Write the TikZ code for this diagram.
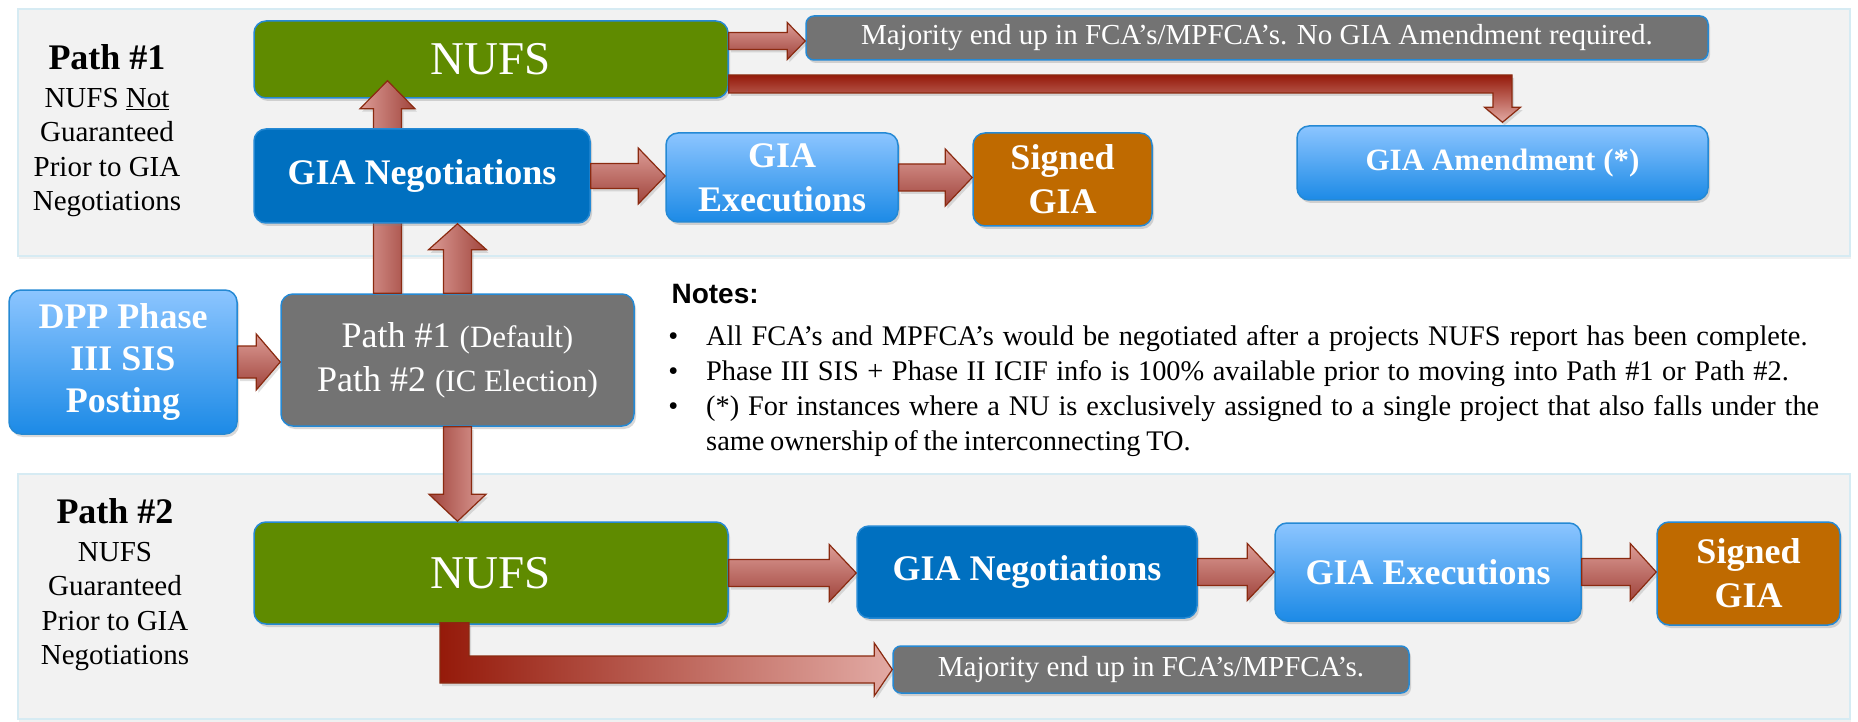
\documentclass[tikz,border=0pt]{standalone}
\usepackage{fontspec}
\setmainfont{Liberation Serif}
\newfontfamily\notesfont{Liberation Sans}
\usepackage{enumitem}
\usetikzlibrary{calc,shadows}

\definecolor{panelfill}{HTML}{F2F2F2}
\definecolor{panelline}{HTML}{D6EBF3}
\definecolor{boxline}{HTML}{2589D4}
\definecolor{nufsgreen}{HTML}{5F8B00}
\definecolor{negblue}{HTML}{0070C0}
\definecolor{exectop}{HTML}{8CC5FF}
\definecolor{execbot}{HTML}{1C8AE6}
\definecolor{signedorange}{HTML}{BF6A00}
\definecolor{notegray}{HTML}{737373}
\definecolor{arrline}{HTML}{8A2A10}
\definecolor{arrlight}{HTML}{DC9C96}
\definecolor{arrdark}{HTML}{A0443C}
\definecolor{elbowdark}{HTML}{951A0A}
\definecolor{elbowlight}{HTML}{E2AAA4}

\newcommand{\rightblock}[6][]{%
  \draw[blockarrow,top color=arrlight,bottom color=arrdark,#1] let \p1=(#2), \p2=(#3) in
    (\x1,{\y1+#4pt}) -- ({\x2-#6pt},{\y1+#4pt}) -- ({\x2-#6pt},{\y1+#5pt}) -- (\x2,\y1)
    -- ({\x2-#6pt},{\y1-#5pt}) -- ({\x2-#6pt},{\y1-#4pt}) -- (\x1,{\y1-#4pt}) -- cycle;}
\newcommand{\upblock}[6][]{%
  \draw[blockarrow,left color=arrlight,right color=arrdark,#1] let \p1=(#2), \p2=(#3) in
    ({\x1-#4pt},\y1) -- ({\x1-#4pt},{\y2-#6pt}) -- ({\x1-#5pt},{\y2-#6pt}) -- (\x1,\y2)
    -- ({\x1+#5pt},{\y2-#6pt}) -- ({\x1+#4pt},{\y2-#6pt}) -- ({\x1+#4pt},\y1) -- cycle;}
\newcommand{\downblock}[6][]{%
  \draw[blockarrow,left color=arrdark,right color=arrlight,#1] let \p1=(#2), \p2=(#3) in
    ({\x1-#4pt},\y1) -- ({\x1-#4pt},{\y2+#6pt}) -- ({\x1-#5pt},{\y2+#6pt}) -- (\x1,\y2)
    -- ({\x1+#5pt},{\y2+#6pt}) -- ({\x1+#4pt},{\y2+#6pt}) -- ({\x1+#4pt},\y1) -- cycle;}

\begin{document}
\begin{tikzpicture}
    [x=1pt,y=-1pt,
     box/.style={rounded corners=12pt,draw=boxline,line width=1.5pt,text=white,align=center,inner sep=0pt,
       drop shadow={opacity=0.3,shadow xshift=2pt,shadow yshift=-3pt}},
     nufsbox/.style={box,fill=nufsgreen,font=\fontsize{47}{52}\selectfont},
     negbox/.style={box,fill=negblue,font=\fontsize{36}{44}\selectfont\bfseries},
     execbox/.style={box,top color=exectop,bottom color=execbot,font=\fontsize{36}{44}\selectfont\bfseries},
     signedbox/.style={box,fill=signedorange,font=\fontsize{36}{44}\selectfont\bfseries},
     notebox/.style={box,fill=notegray,rounded corners=8pt,font=\fontsize{29}{34}\selectfont},
     panelbox/.style={fill=panelfill,draw=panelline,line width=1.5pt,
       drop shadow={opacity=0.12,shadow xshift=1pt,shadow yshift=-3pt}},
     sidelabel/.style={align=center,font=\fontsize{29}{34.5}\selectfont},
     blockarrow/.style={draw=arrline,line width=1.2pt,
       drop shadow={opacity=0.25,shadow xshift=2pt,shadow yshift=-3pt}}]
    \useasboundingbox (0,0) rectangle (1858,722);

    \draw[panelbox] (18,9) rectangle (1850,256);
    \draw[panelbox] (18,474) rectangle (1850,719);

    \node[sidelabel] (labelA) at (107,131) {{\fontsize{36}{36}\selectfont\bfseries Path \#1}\\[3pt]NUFS \underline{Not}\\Guaranteed\\Prior to GIA\\Negotiations};
    \node[sidelabel] (labelB) at (115,585) {{\fontsize{36}{36}\selectfont\bfseries Path \#2}\\[3pt]NUFS\\Guaranteed\\Prior to GIA\\Negotiations};

    \node[nufsbox,minimum width=474,minimum height=77] (nufsA) at (491,59.5) {NUFS};
    \node[box,top color=exectop,bottom color=execbot,minimum width=228,minimum height=144,
      font=\fontsize{36}{42}\selectfont\bfseries] (dpp) at (123,362) {DPP Phase\\III SIS\\Posting};
    \node[box,fill=notegray,minimum width=353,minimum height=132,font=\fontsize{36}{44}\selectfont] (pathbox) at (457.5,360)
      {Path \#1 {\fontsize{31}{44}\selectfont(Default)}\\Path \#2 {\fontsize{31}{44}\selectfont(IC Election)}};

    \upblock{[xshift=-70pt]pathbox.north}{[yshift=18pt]nufsA.south}{14}{27.5}{28}

    \node[negbox,minimum width=336,minimum height=94] (negA) at (422,176) {GIA Negotiations};
    \node[execbox,minimum width=232,minimum height=89] (execA) at (782,177.5) {GIA\\Executions};
    \node[signedbox,minimum width=179,minimum height=93] (signedA) at (1062.5,179.5) {Signed\\GIA};
    \node[notebox,minimum width=902,minimum height=44] (majA) at (1257,38) {Majority end up in FCA’s/MPFCA’s. No GIA Amendment required.};
    \node[execbox,minimum width=411,minimum height=74,font=\fontsize{31}{36}\selectfont\bfseries] (amendA) at (1502.5,163) {GIA Amendment (*)};

    \node[nufsbox,minimum width=474,minimum height=102] (nufsB) at (491,573) {NUFS};
    \node[negbox,minimum width=340,minimum height=92] (negB) at (1027,572) {GIA Negotiations};
    \node[execbox,minimum width=306,minimum height=98] (execB) at (1428,572) {GIA Executions};
    \node[signedbox,minimum width=183,minimum height=103] (signedB) at (1748.5,573.5) {Signed\\GIA};
    \node[notebox,minimum width=516,minimum height=47] (majB) at (1151,669.5) {Majority end up in FCA’s/MPFCA’s.};

    \node[anchor=west,font=\notesfont\fontsize{28}{32}\selectfont\bfseries] (notes) at (668,294) {Notes:};
    \node[anchor=north west,text width=1151,align=justify,inner sep=0pt,font=\fontsize{28.4}{35}\selectfont] (notelist) at (668,310)
      {\begin{itemize}[leftmargin=38pt,labelwidth=10pt,labelsep=28pt,itemsep=0pt,topsep=0pt,parsep=0pt,partopsep=0pt]
       \item \spaceskip=0.32em plus 0.1em minus 0.05em
         All FCA’s and MPFCA’s would be negotiated after a projects NUFS report has been complete.
       \item \spaceskip=0.30em plus 0.1em minus 0.05em
         Phase III SIS + Phase II ICIF info is 100\% available prior to moving into Path \#1 or Path \#2.
       \item \spaceskip=0.2em plus 0.3em minus 0.02em
         (*) For instances where a NU is exclusively assigned to a single project that also falls under the\linebreak same ownership of the interconnecting TO.
       \end{itemize}};

    \rightblock{$(nufsA.east |- majA.west)+(0,3)$}{majA.west}{8.5}{18.5}{18}
    \draw[blockarrow,top color=elbowdark,bottom color=elbowlight] let \p1=([yshift=-24.5pt]nufsA.east), \p2=([yshift=3pt]amendA.north) in
      (\x1,{\y1+9pt}) -- ({\x2+9.5pt},{\y1+9pt}) -- ({\x2+9.5pt},{\y2+15pt}) -- ({\x2+18pt},{\y2+15pt}) -- (\x2,\y2)
      -- ({\x2-18pt},{\y2+15pt}) -- ({\x2-9.5pt},{\y2+15pt}) -- ({\x2-9.5pt},{\y1-9pt}) -- (\x1,{\y1-9pt}) -- cycle;
    \upblock{pathbox.north}{negA.south}{14}{29}{26}
    \rightblock{dpp.east}{pathbox.west}{16}{28}{24}
    \rightblock{negA.east}{execA.west}{12.5}{28}{27}
    \rightblock{execA.east}{signedA.west}{13.5}{28.5}{27}
    \downblock{pathbox.south}{nufsB.north}{14}{28.5}{27}
    \rightblock{nufsB.east}{negB.west}{13.5}{28.5}{27}
    \rightblock{negB.east}{execB.west}{13.5}{28.5}{27}
    \rightblock{execB.east}{signedB.west}{13.5}{28.5}{26}
    \draw[blockarrow,left color=elbowdark,right color=elbowlight] let \p1=([xshift=-36.5pt]nufsB.south), \p2=(majB.west) in
      ({\x1-14.5pt},{\y1+2pt}) -- ({\x1+14.5pt},{\y1+2pt}) -- ({\x1+14.5pt},{\y2+13.5pt}) -- ({\x2-18pt},{\y2+13.5pt})
      -- ({\x2-18pt},{\y2+26.5pt}) -- (\x2,\y2) -- ({\x2-18pt},{\y2-26.5pt}) -- ({\x2-18pt},{\y2-13.5pt})
      -- ({\x1-14.5pt},{\y2-13.5pt}) -- cycle;
  \end{tikzpicture}
\end{document}
